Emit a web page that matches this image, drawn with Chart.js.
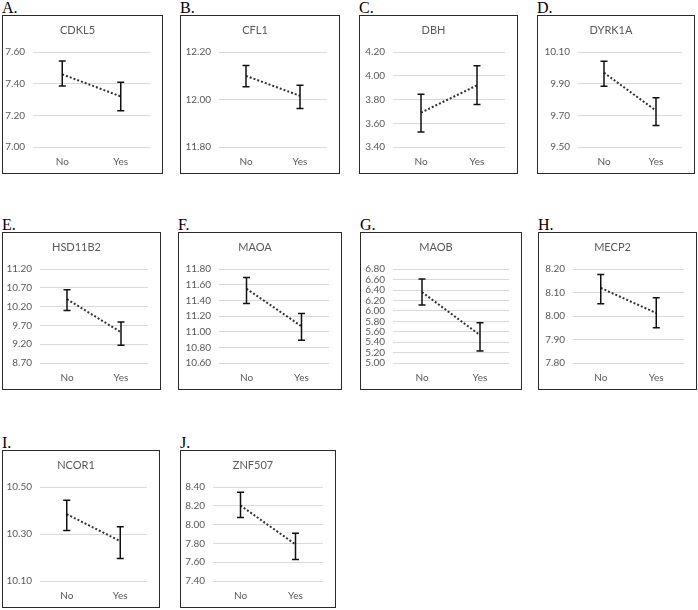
<!DOCTYPE html>
<html>
<head>
<meta charset="utf-8">
<script src="https://cdn.jsdelivr.net/npm/chart.js@4.4.1/dist/chart.umd.min.js"></script>
<style>
  html, body { margin: 0; padding: 0; background: #fff; }
  body { width: 698px; height: 610px; position: relative; overflow: hidden; }
  .letter { position: absolute; font-family: "Liberation Serif", "Times New Roman", serif; font-size: 16px; line-height: 16px; color: #000; }
  .box { position: absolute; box-sizing: border-box; border: 1.5px solid #2a2a2a; background: #fff; }
  .box canvas { display: block; }
</style>
</head>
<body>
<script>
// ---- data ----
const panelLetters = ["A.", "B.", "C.", "D.", "E.", "F.", "G.", "H.", "I.", "J."];
const genes = ["CDKL5", "CFL1", "DBH", "DYRK1A", "HSD11B2", "MAOA", "MAOB", "MECP2", "NCOR1", "ZNF507"];
const categories = ["No", "Yes"];
const meanNo  = [7.46, 12.10, 3.69, 9.97, 10.40, 11.55, 6.36, 8.12, 10.385, 8.205];
const meanYes = [7.32, 12.016, 3.92, 9.73, 9.52, 11.07, 5.535, 8.013, 10.27, 7.79];
const upperNo  = [7.545, 12.144, 3.845, 10.042, 10.65, 11.694, 6.61, 8.177, 10.444, 8.345];
const lowerNo  = [7.386, 12.054, 3.527, 9.884, 10.10, 11.36, 6.113, 8.053, 10.315, 8.078];
const upperYes = [7.41, 12.061, 4.085, 9.8125, 9.79, 11.233, 5.77, 8.078, 10.331, 7.91];
const lowerYes = [7.23, 11.962, 3.758, 9.636, 9.17, 10.89, 5.23, 7.95, 10.196, 7.63];
const yMin  = [7.00, 11.80, 3.40, 9.50, 8.70, 10.60, 5.00, 7.80, 10.10, 7.40];
const yMax  = [7.60, 12.20, 4.20, 10.10, 11.20, 11.80, 6.80, 8.20, 10.50, 8.40];
const yStep = [0.20, 0.20, 0.20, 0.20, 0.50, 0.20, 0.20, 0.10, 0.20, 0.20];

// ---- layout (box left, top, width, height, plot-left offset inside canvas) ----
const boxes = [
  [2, 15, 161, 159, 30], [180, 15, 160, 159, 38], [359, 15, 159, 159, 33], [537, 15, 158, 159, 40],
  [2, 232, 159, 158, 37], [178, 232, 164, 158, 40], [360, 232, 162, 158, 32], [538, 232, 159, 158, 34],
  [2, 450, 158, 158, 37], [180, 450, 156, 158, 32]
];
const PAD_LEFT = 2;

const errorBarPlugin = {
  id: 'errorBars',
  afterDatasetsDraw(chart) {
    const i = chart.options.plugins.errorBars.index;
    const xs = chart.scales.x, ys = chart.scales.y;
    const hi = [upperNo[i], upperYes[i]];
    const lo = [lowerNo[i], lowerYes[i]];
    const ctx = chart.ctx;
    ctx.save();
    ctx.strokeStyle = '#111';
    ctx.lineWidth = 1.5;
    for (let k = 0; k < categories.length; k++) {
      const x = xs.getPixelForValue(k);
      const y1 = ys.getPixelForValue(hi[k]);
      const y2 = ys.getPixelForValue(lo[k]);
      ctx.beginPath();
      ctx.moveTo(x, y1); ctx.lineTo(x, y2);
      ctx.moveTo(x - 3.5, y1); ctx.lineTo(x + 3.5, y1);
      ctx.moveTo(x - 3.5, y2); ctx.lineTo(x + 3.5, y2);
      ctx.stroke();
    }
    ctx.restore();
  }
};

const FONT = "Lato, 'Open Sans', sans-serif";

genes.forEach((g, i) => {
  const [bx, by, bw, bh, plotLeft] = boxes[i];
  const letter = document.createElement('div');
  letter.className = 'letter';
  letter.style.left = (bx) + 'px';
  letter.style.top = (by - 15) + 'px';
  letter.textContent = panelLetters[i];
  document.body.appendChild(letter);

  const box = document.createElement('div');
  box.className = 'box';
  box.style.left = bx + 'px';
  box.style.top = by + 'px';
  box.style.width = bw + 'px';
  box.style.height = bh + 'px';
  const cv = document.createElement('canvas');
  const cw = bw - 3, ch = bh - 3;
  cv.width = cw; cv.height = ch;
  cv.style.width = cw + 'px'; cv.style.height = ch + 'px';
  box.appendChild(cv);
  document.body.appendChild(box);

  new Chart(cv, {
    type: 'line',
    data: {
      labels: categories,
      datasets: [{
        data: [meanNo[i], meanYes[i]],
        borderColor: '#333333',
        borderWidth: 2,
        borderDash: [2, 2],
        pointRadius: 0,
        fill: false,
        tension: 0
      }]
    },
    options: {
      responsive: false,
      animation: false,
      devicePixelRatio: 1,
      layout: { padding: { top: 8, left: PAD_LEFT, right: 11, bottom: 4 } },
      plugins: {
        legend: { display: false },
        tooltip: { enabled: false },
        title: {
          display: true,
          text: g,
          color: '#595959',
          font: { family: FONT, size: 11, weight: 'normal' },
          padding: { top: 0, bottom: 15 }
        },
        errorBars: { index: i }
      },
      scales: {
        x: {
          type: 'category',
          offset: true,
          grid: { display: false, drawTicks: false },
          border: { display: false },
          ticks: { color: '#595959', font: { family: FONT, size: 10 }, padding: 9, maxRotation: 0, autoSkip: false },
          afterFit: (s) => { s.height = 21; }
        },
        y: {
          min: yMin[i],
          max: yMax[i],
          grid: { color: '#d9d9d9', lineWidth: 1, drawTicks: false },
          border: { display: false },
          ticks: {
            stepSize: yStep[i],
            autoSkip: false,
            color: '#595959',
            font: { family: FONT, size: 10 },
            padding: 8,
            callback: (v) => Number(v).toFixed(2)
          },
          afterFit: (s) => { s.width = plotLeft - PAD_LEFT; }
        }
      }
    },
    plugins: [errorBarPlugin]
  });
});
</script>
</body>
</html>
